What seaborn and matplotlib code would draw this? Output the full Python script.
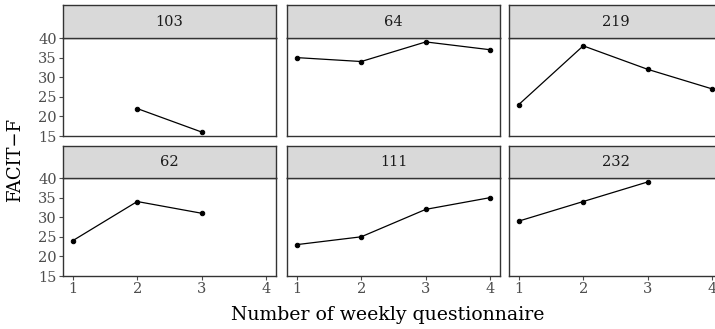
import matplotlib
matplotlib.use("Agg")
import matplotlib.pyplot as plt
import seaborn as sns
import pandas as pd

sns.set_theme(style="white")
plt.rcParams["font.family"] = ["DejaVu Serif"]

# FACIT-F scores per patient across weekly questionnaires
patients = ["103", "64", "219", "62", "111", "232"]
weeks_103 = [2, 3]
score_103 = [22, 16]
weeks_64 = [1, 2, 3, 4]
score_64 = [35, 34, 39, 37]
weeks_219 = [1, 2, 3, 4]
score_219 = [23, 38, 32, 27]
weeks_62 = [1, 2, 3]
score_62 = [24, 34, 31]
weeks_111 = [1, 2, 3, 4]
score_111 = [23, 25, 32, 35]
weeks_232 = [1, 2, 3]
score_232 = [29, 34, 39]

x_ticks = [1, 2, 3, 4]
y_ticks = [15, 20, 25, 30, 35, 40]

series = {
    "103": (weeks_103, score_103),
    "64": (weeks_64, score_64),
    "219": (weeks_219, score_219),
    "62": (weeks_62, score_62),
    "111": (weeks_111, score_111),
    "232": (weeks_232, score_232),
}
df = pd.concat(
    [pd.DataFrame({"patient": p, "week": w, "score": s}) for p, (w, s) in series.items()],
    ignore_index=True,
)

W, H = 715, 329
fig = plt.figure(figsize=(W / 100, H / 100), dpi=100)

col_left = [63, 287, 509]
panel_w = 213
rows = [(5, 38, 136), (146, 178, 276)]  # strip top, panel top, panel bottom
border = "#333333"
tick_col = "#4d4d4d"

for i, p in enumerate(patients):
    r, c = divmod(i, 3)
    st, pt, pb = rows[r]
    x0 = col_left[c]
    ax = fig.add_axes([x0 / W, 1 - pb / H, panel_w / W, (pb - pt) / H])
    sub = df[df["patient"] == p]
    sns.lineplot(data=sub, x="week", y="score", ax=ax, color="black",
                 linewidth=0.9, marker="o", markersize=3.2,
                 markeredgecolor="black", estimator=None)
    ax.set_xlim(0.85, 4.15)
    ax.set_ylim(15, 40)
    ax.set_xticks(x_ticks)
    ax.set_yticks(y_ticks)
    ax.set_xlabel("")
    ax.set_ylabel("")
    for s in ax.spines.values():
        s.set_color(border)
        s.set_linewidth(1.0)
    ax.tick_params(axis="both", colors=tick_col, labelcolor=tick_col,
                   labelsize=10.5, length=3, width=0.8, pad=1.5)
    ax.tick_params(axis="x", bottom=(r == 1), labelbottom=(r == 1))
    ax.tick_params(axis="y", left=(c == 0), labelleft=(c == 0))

    sax = fig.add_axes([x0 / W, 1 - pt / H, panel_w / W, (pt - st) / H])
    sax.set_facecolor("#d9d9d9")
    sax.set_xticks([])
    sax.set_yticks([])
    for s in sax.spines.values():
        s.set_color(border)
        s.set_linewidth(1.0)
    sax.text(0.5, 0.5, p, ha="center", va="center", fontsize=10.5,
             color="#1a1a1a", transform=sax.transAxes)

fig.text(388 / W, 1 - 315 / H, "Number of weekly questionnaire",
         ha="center", va="center", fontsize=13.6, color="black")
fig.text(15 / W, 1 - 160 / H, "FACIT\u2212F", rotation=90,
         ha="center", va="center", fontsize=13, color="black")

fig.savefig("out.png", dpi=100)
